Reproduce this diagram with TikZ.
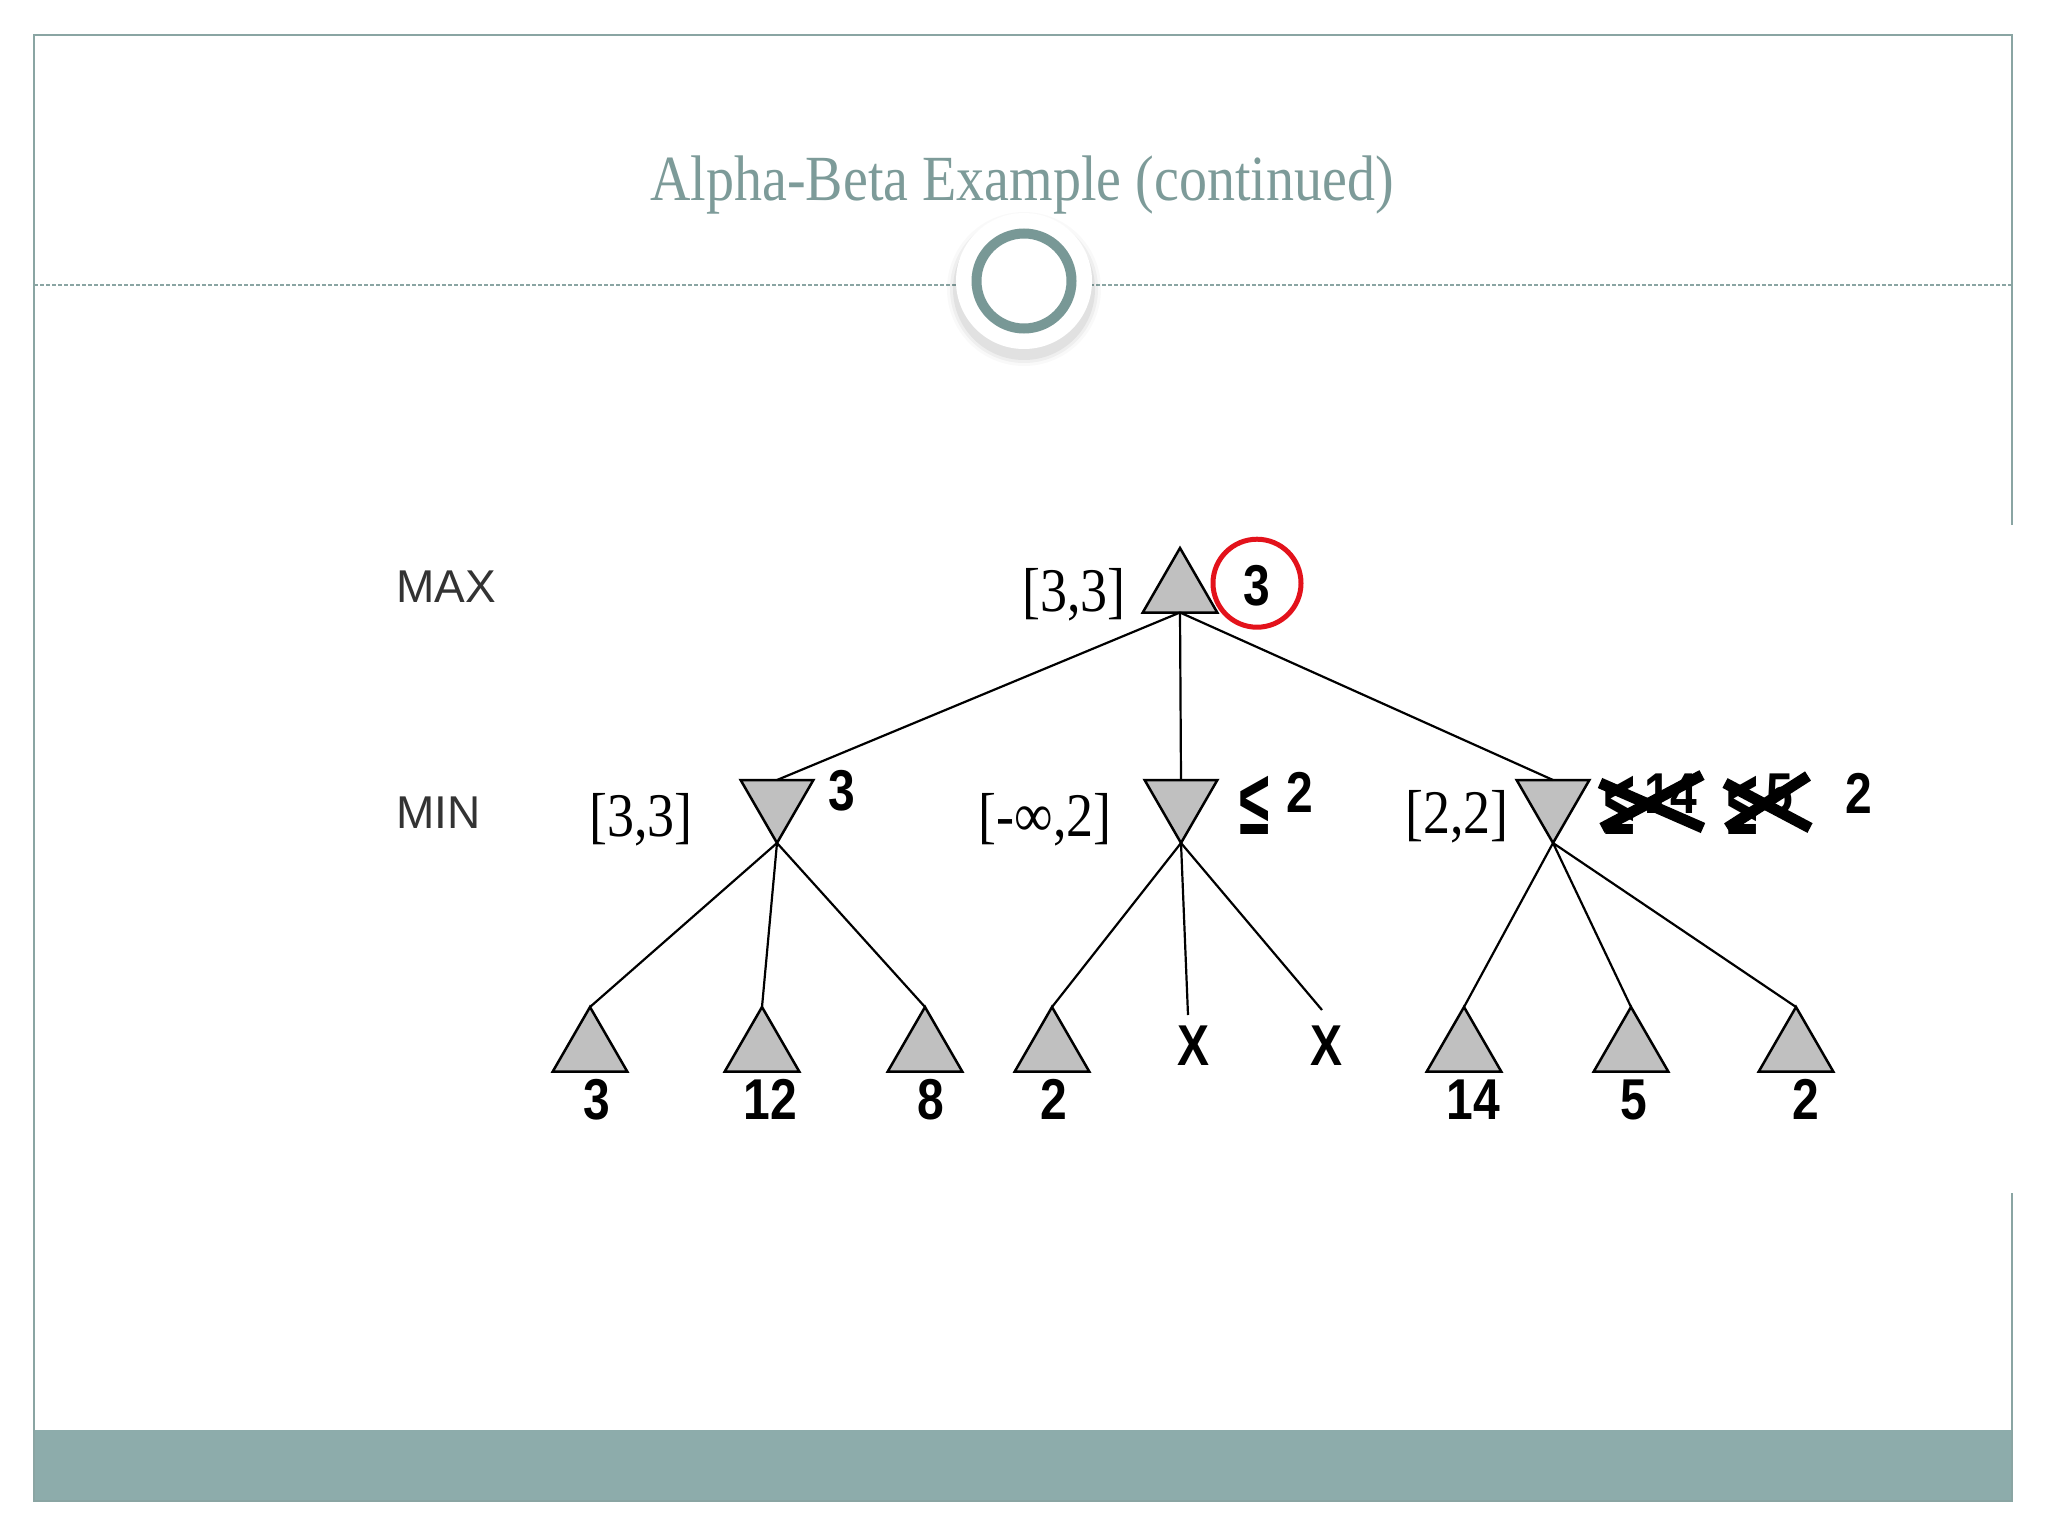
\documentclass[tikz,border=0pt]{standalone}
\usepackage{fontspec}
\setmainfont{Liberation Serif}
\newfontfamily\arialf{Liberation Sans}
\usetikzlibrary{shapes.geometric}
\definecolor{ringcol}{HTML}{789896}
\definecolor{titlecol}{HTML}{7D9B99}
\definecolor{framecol}{HTML}{8AA5A3}
\definecolor{bandcol}{HTML}{8DACAB}
\definecolor{trifill}{HTML}{C0C0C0}
\definecolor{redc}{HTML}{E3121B}
\newcommand{\bsf}[1]{\scalebox{1}[1.2]{\arialf\bfseries #1}}
\newcommand{\ssf}[1]{\scalebox{1}[1.15]{#1}}
\newcommand{\bigle}{\scalebox{0.6}[1]{\arialf\bfseries\fontsize{92}{94}\selectfont ≤}}
\begin{document}
\begin{tikzpicture}[x=1pt,y=-1pt,
  maxtri/.style={regular polygon, regular polygon sides=3, minimum size=86pt, inner sep=0pt, outer sep=0pt, fill=trifill, draw=black, line width=2.5pt},
  mintri/.style={maxtri, minimum size=84pt, shape border rotate=180},
  edge/.style={draw=black, line width=2.2pt},
  blab/.style={inner sep=0pt, anchor=base, font=\fontsize{48}{50}\selectfont},
  slab/.style={inner sep=0pt, anchor=base, font=\fontsize{54}{56}\selectfont},
  rowlab/.style={inner sep=0pt, anchor=base west, text=black!80, font=\arialf\fontsize{46}{48}\selectfont},
  strike/.style={line width=11pt, draw=black},
  frame/.style={draw=framecol, line width=2pt}
]
\useasboundingbox (0,0) rectangle (2048,1536);
% slide frame
\fill[bandcol] (34,1430) rectangle (2012,1501);
\draw[frame] (2012,525) -- (2012,35) -- (34,35) -- (34,1501) -- (2012,1501) -- (2012,1193);
\draw[framecol, line width=1.4pt, dash pattern=on 4pt off 2pt] (34,285) -- (2012,285);
% title
\node[inner sep=0pt, anchor=base, text=titlecol, font=\fontsize{56}{60}\selectfont] (title) at (1022,200) {\ssf{Alpha-Beta Example (continued)}};
% ring decoration
\foreach \r/\o in {77/0.025, 74/0.04, 71/0.06} \fill[black, opacity=\o] (1024,289) circle (\r);
\fill[white] (1024,281) circle (68);
\draw[ringcol, line width=10pt] (1024,281) circle (47.5);
% row labels
\node[rowlab] (maxl) at (396,602) {MAX};
\node[rowlab] (minl) at (396,828) {MIN};
% tree nodes
\node[maxtri] (root) at (1180,591) {};
\node[mintri] (m1) at (777,801) {};
\node[mintri] (m2) at (1181,801) {};
\node[mintri] (m3) at (1553,801) {};
\node[maxtri] (l1) at (590,1050) {};
\node[maxtri] (l2) at (762,1050) {};
\node[maxtri] (l3) at (925,1050) {};
\node[maxtri] (l4) at (1052,1050) {};
\node[maxtri] (l5) at (1464,1050) {};
\node[maxtri] (l6) at (1631,1050) {};
\node[maxtri] (l7) at (1796,1050) {};
\coordinate (x1e) at (1188,1015);
\coordinate (x2e) at (1322,1010);
% connectors
\draw[edge] (root.side 2) -- (m1.side 2);
\draw[edge] (root.side 2) -- (m2.side 2);
\draw[edge] (root.side 2) -- (m3.side 2);
\draw[edge] (m1.corner 1) -- (l1.corner 1);
\draw[edge] (m1.corner 1) -- (l2.corner 1);
\draw[edge] (m1.corner 1) -- (l3.corner 1);
\draw[edge] (m2.corner 1) -- (l4.corner 1);
\draw[edge] (m2.corner 1) -- (x1e);
\draw[edge] (m2.corner 1) -- (x2e);
\draw[edge] (m3.corner 1) -- (l5.corner 1);
\draw[edge] (m3.corner 1) -- (l6.corner 1);
\draw[edge] (m3.corner 1) -- (l7.corner 1);
% interval labels
\node[slab] (iroot) at (1074,611) {\ssf{[3,3]}};
\node[slab] (im1) at (641,836) {\ssf{[3,3]}};
\node[slab] (im2) at (1045,836) {\ssf{[-∞,2]}};
\node[slab] (im3) at (1457,833) {\ssf{[2,2]}};
% value labels
\node[blab] (vroot) at (1257,605) {\bsf{3}};
\draw[redc, line width=5pt] (vroot.center) ++(0,-2) circle (44);
\node[blab] (vm1) at (842,810) {\bsf{3}};
\node[inner sep=0pt, anchor=base] (vm2a) at (1255,834) {\bigle};
\node[blab] (vm2b) at (1300,812) {\bsf{2}};
\node[inner sep=0pt, anchor=base] (vm3le) at (1620,834) {\bigle};
\node[blab, anchor=base west] (vm3a) at (1644,813) {\bsf{14}};
\draw[strike] (1600,783) -- (1703,828);
\draw[strike] (1602,828) -- (1702,775);
\node[inner sep=0pt, anchor=base] (vm3le2) at (1743,834) {\bigle};
\node[blab, anchor=base west] (vm3b) at (1766,813) {\bsf{5}};
\draw[strike] (1725,783) -- (1810,828);
\draw[strike] (1727,828) -- (1808,776);
\node[blab] (vm3c) at (1859,813) {\bsf{2}};
% leaf labels
\node[blab] (t1) at (597,1119) {\bsf{3}};
\node[blab] (t2) at (770,1119) {\bsf{12}};
\node[blab] (t3) at (931,1119) {\bsf{8}};
\node[blab] (t4) at (1054,1119) {\bsf{2}};
\node[blab] (xa) at (1193,1065) {\bsf{X}};
\node[blab] (xb) at (1326,1065) {\bsf{X}};
\node[blab] (t5) at (1473,1119) {\bsf{14}};
\node[blab] (t6) at (1634,1119) {\bsf{5}};
\node[blab] (t7) at (1806,1119) {\bsf{2}};
\end{tikzpicture}
\end{document}
